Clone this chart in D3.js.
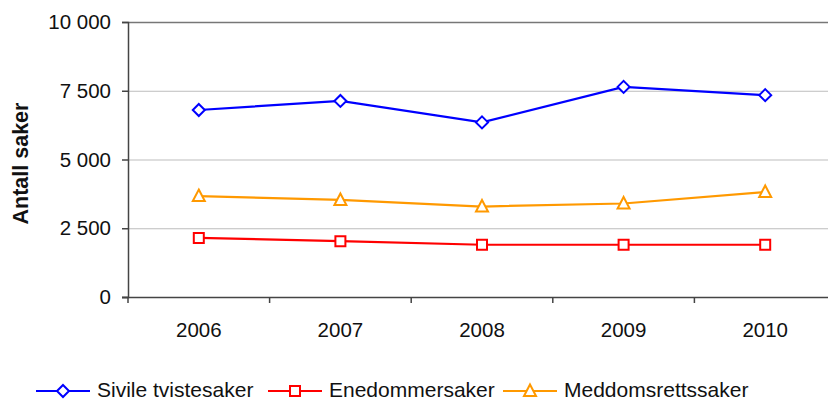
<!DOCTYPE html>
<html><head><meta charset="utf-8">
<script src="https://cdn.jsdelivr.net/npm/d3@7"></script>
<style>body{margin:0;background:#fff}svg{display:block;font-family:"Liberation Sans",Arial,sans-serif}</style>
</head><body>
<svg id="c" width="828" height="401"></svg>
<script>
const years = ["2006","2007","2008","2009","2010"];
const sivile = [6800, 7130, 6350, 7640, 7340];
const enedom = [2150, 2030, 1900, 1900, 1900];
const meddom = [3670, 3530, 3290, 3400, 3820];
const yTicks = [0, 2500, 5000, 7500, 10000];
const seriesNames = ["Sivile tvistesaker", "Enedommersaker", "Meddomsrettssaker"];
const seriesColors = ["#0000FF", "#FF0000", "#FF9900"];
const seriesShapes = ["diamond", "square", "triangle"];
const seriesValues = [sivile, enedom, meddom];

const svg = d3.select("#c");
const L = 128, R = 836, T = 22, B = 297;
const x = d3.scaleBand().domain(years).range([L, R]);
const y = d3.scaleLinear().domain([0, 10000]).range([B, T]);
const fmt = v => v === 0 ? "0" : d3.format(",")(v).replace(/,/g, " ");

// gridlines
svg.append("g").selectAll("line").data(yTicks.filter(v => v > 0)).join("line")
  .attr("x1", L).attr("x2", 828).attr("y1", d => y(d) + 0.5).attr("y2", d => y(d) + 0.5)
  .attr("stroke", d => d === 10000 ? "#777" : "#bdbdbd").attr("stroke-width", d => d === 10000 ? 1.5 : 1);

// y axis
const ya = svg.append("g").attr("transform", `translate(${L},0)`)
  .call(d3.axisLeft(y).tickValues(yTicks).tickFormat(fmt).tickSize(6).tickPadding(11));
ya.select(".domain").attr("stroke", "#444").attr("stroke-width", 1.5);
ya.selectAll(".tick line").attr("stroke", "#444").attr("stroke-width", 1.5);
ya.selectAll("text").attr("font-size", "20.5px").attr("fill", "#111").attr("font-family", "Liberation Sans, Arial, sans-serif");

// x axis
const xa = svg.append("g").attr("transform", `translate(0,${B})`)
  .call(d3.axisBottom(x).tickSize(0).tickPadding(25));
xa.select(".domain").remove();
svg.append("line").attr("x1", L - 6).attr("x2", 828).attr("y1", B + 0.5).attr("y2", B + 0.5)
  .attr("stroke", "#444").attr("stroke-width", 1.5);
svg.append("g").selectAll("line").data(years).join("line")
  .attr("x1", d => x(d)).attr("x2", d => x(d)).attr("y1", B).attr("y2", B + 6)
  .attr("stroke", "#444").attr("stroke-width", 1.5);
xa.selectAll("text").attr("font-size", "20.5px").attr("fill", "#111").attr("font-family", "Liberation Sans, Arial, sans-serif");

// y title
svg.append("text").attr("transform", `translate(28,${(T + B) / 2 + 4}) rotate(-90)`)
  .attr("text-anchor", "middle").attr("font-weight", "bold").attr("font-size", "21.5px").attr("fill", "#111")
  .text("Antall saker");

function marker(g, shape, cx, cy, color) {
  let p;
  if (shape === "diamond") p = `M${cx},${cy - 6}L${cx + 6},${cy}L${cx},${cy + 6}L${cx - 6},${cy}Z`;
  else if (shape === "square") p = `M${cx - 5},${cy - 5}H${cx + 5}V${cy + 5}H${cx - 5}Z`;
  else p = `M${cx},${cy - 6.5}L${cx + 6},${cy + 5}L${cx - 6},${cy + 5}Z`;
  g.append("path").attr("d", p).attr("fill", "#fff").attr("stroke", color).attr("stroke-width", 2);
}

const cx = d => x(d) + x.bandwidth() / 2;
seriesValues.forEach((vals, i) => {
  const g = svg.append("g");
  const line = d3.line().x((d, j) => cx(years[j])).y(d => y(d));
  g.append("path").attr("d", line(vals)).attr("fill", "none").attr("stroke", seriesColors[i]).attr("stroke-width", 2.2);
  vals.forEach((v, j) => marker(g, seriesShapes[i], cx(years[j]), y(v), seriesColors[i]));
});

// legend
const legX = [36, 268, 503];
const legY = 391;
seriesNames.forEach((n, i) => {
  const g = svg.append("g");
  g.append("line").attr("x1", legX[i]).attr("x2", legX[i] + 54).attr("y1", legY).attr("y2", legY)
    .attr("stroke", seriesColors[i]).attr("stroke-width", 2.2);
  marker(g, seriesShapes[i], legX[i] + 27, legY, seriesColors[i]);
  g.append("text").attr("x", legX[i] + 61).attr("y", legY + 6).attr("font-size", "21px").attr("fill", "#111").text(n);
});
</script>
</body></html>
